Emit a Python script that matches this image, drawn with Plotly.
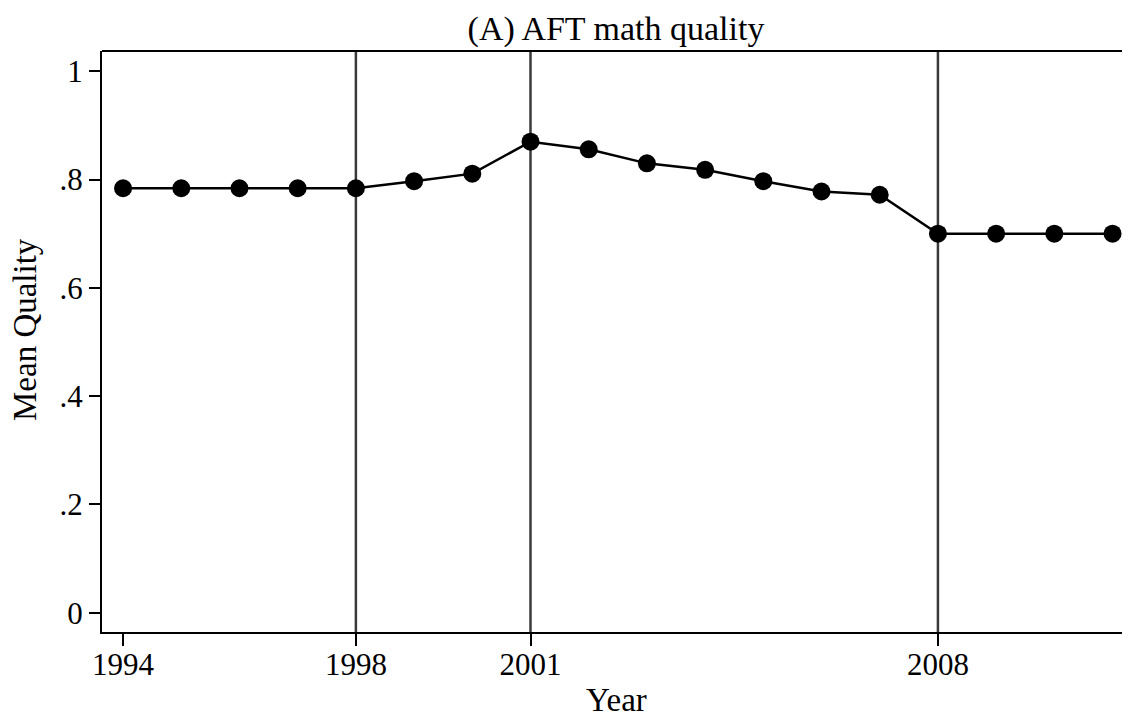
import plotly.graph_objects as go

years = list(range(1994, 2012))
quality = [0.784, 0.784, 0.784, 0.784, 0.784, 0.797, 0.811, 0.870, 0.856, 0.830,
           0.818, 0.797, 0.778, 0.772, 0.700, 0.700, 0.700, 0.700]
vlines = [1998, 2001, 2008]
xticks = [1994, 1998, 2001, 2008]
yticks = [0, 0.2, 0.4, 0.6, 0.8, 1.0]
yticklabels = ["0", ".2", ".4", ".6", ".8", "1"]

FONT = "Liberation Serif"
# page body has an 8px margin; figure is sized to fill the rest of the window
W, H = 1122, 712
L, T, R, B = 94, 43, 0, 88
plot_h = H - T - B

fig = go.Figure()
for v in vlines:
    fig.add_shape(type="line", xref="x", yref="paper", x0=v, x1=v, y0=0, y1=1,
                  line=dict(color="#3a3a3a", width=2.5), layer="below")
fig.add_trace(go.Scatter(x=years, y=quality, mode="lines+markers",
                         line=dict(color="black", width=2.5),
                         marker=dict(color="black", size=18),
                         showlegend=False))
fig.add_shape(type="line", xref="paper", yref="paper", x0=0, x1=1, y0=1, y1=1,
              line=dict(color="black", width=2))

fig.add_annotation(text="Year", xref="paper", yref="paper", x=0.5, y=0,
                   xanchor="center", yanchor="middle", yshift=-68, showarrow=False,
                   font=dict(size=33))
fig.add_annotation(text="Mean Quality", xref="paper", yref="paper", x=0,
                   y=(H - B - (330 - 8)) / plot_h,
                   xanchor="center", yanchor="middle", xshift=-77, textangle=-90,
                   showarrow=False, font=dict(size=33))

fig.update_layout(
    width=W, height=H,
    margin=dict(l=L, r=R, t=T, b=B),
    paper_bgcolor="white", plot_bgcolor="white",
    font=dict(family=FONT, color="black", size=31),
    title=dict(text="(A) AFT math quality", x=0.5, xanchor="center", xref="paper",
               y=1 - 20 / H, yanchor="middle", font=dict(size=34)),
)
fig.update_xaxes(range=[1993.638, 2011.3], tickvals=xticks, ticktext=[str(t) for t in xticks],
                 showgrid=False, zeroline=False, showline=True, linecolor="black", linewidth=2,
                 ticks="outside", ticklen=12, tickwidth=2, tickcolor="black",
                 tickfont=dict(size=31), ticklabelstandoff=-8)
fig.update_yaxes(range=[-0.0356, 1.0375], tickvals=yticks, ticktext=yticklabels,
                 showgrid=False, zeroline=False, showline=True, linecolor="black", linewidth=2,
                 ticks="outside", ticklen=11, tickwidth=2, tickcolor="black",
                 tickfont=dict(size=31), ticklabelstandoff=0)

fig.write_html("out.html")
